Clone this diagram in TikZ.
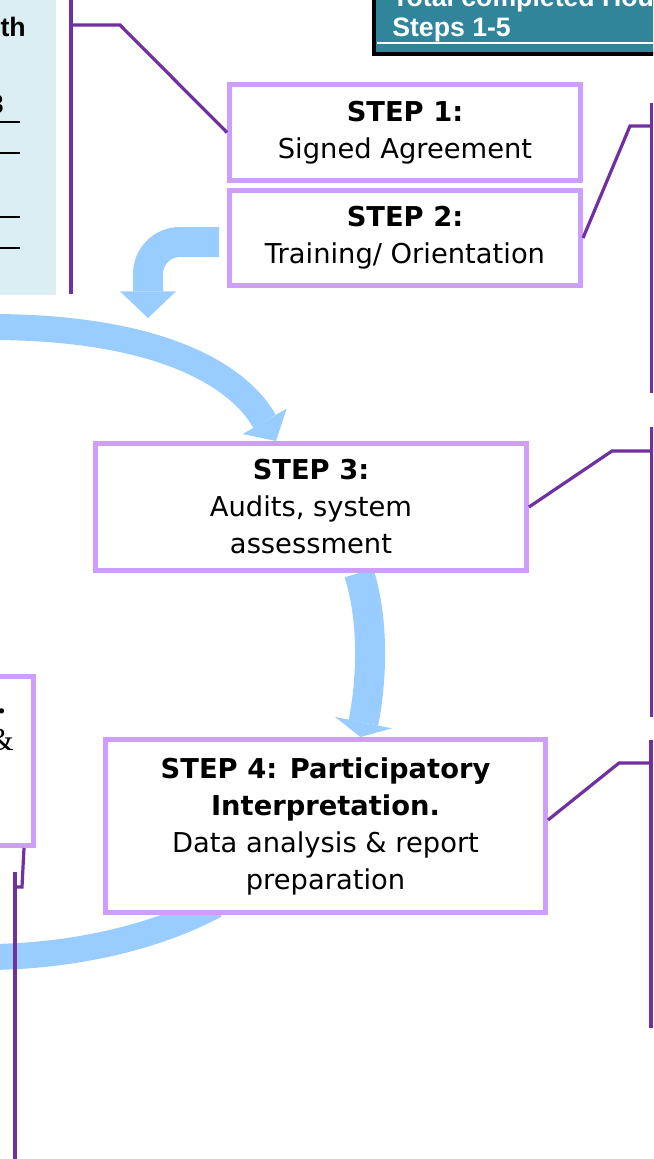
\documentclass[tikz,border=0pt]{standalone}
\usepackage{fontspec}
\setmainfont{DejaVu Sans}
\newfontfamily\headfont{Liberation Sans}
\newfontfamily\notefont{Liberation Serif}
\usepackage{tikz}
\usetikzlibrary{
    arrows.meta,
    calc,
    backgrounds
}

\definecolor{boxline}{RGB}{206,158,255}
\definecolor{linkpurple}{RGB}{112,48,160}
\definecolor{flowblue}{RGB}{153,204,255}
\definecolor{notefill}{RGB}{218,238,243}
\definecolor{tealhead}{RGB}{49,133,155}

\tikzset{
    stepbox/.style={draw=boxline, line width=3.75pt, fill=white, align=center,
        inner sep=0pt, font=\fontsize{20.5}{27.75}\selectfont},
    headtext/.style={anchor=base west, inner sep=0pt, text=white,
        font=\headfont\bfseries\fontsize{20}{24}\selectfont},
    notetext/.style={anchor=base east, inner sep=0pt},
    link/.style={draw=linkpurple, line width=2.4pt},
    flow/.style={draw=flowblue, line width=19.5pt}
}

\begin{document}
\begin{tikzpicture}[x=0.75pt, y=-0.75pt]
        \useasboundingbox (0,0) rectangle (653,1159);
        \clip (0,0) rectangle (653,1159);

        % Hours sheet, top left
        \fill[notefill] (0,-5) rectangle (56,295);
        \node[notetext, font=\headfont\bfseries\fontsize{20}{24}\selectfont] (hrs) at (26,37) {th};
        \node[notetext, font=\headfont\bfseries\fontsize{20}{24}\selectfont] (hrsnum) at (4,114) {3};
        \foreach \y in {122,153,217,248}
            \draw[line width=1.2pt] (0,\y) -- (20,\y);

        % Total box, top right
        \filldraw[fill=tealhead, draw=black, line width=3pt] (373.75,-10) rectangle (700,54);
        \node[headtext] (total) at (392,7) {Total completed Hou};
        \node[headtext] (steps) at (392,37) {Steps 1-5};
        \draw[white, line width=1.5pt] (377,43) -- (653,43);

        % Step boxes
        \node[stepbox, minimum width=263.25pt, minimum height=72pt] (step1) at (405,132.5)
            {\textbf{STEP 1:}\\Signed Agreement};
        \node[stepbox, minimum width=263.25pt, minimum height=71.25pt] (step2) at (405,238)
            {\textbf{STEP 2:}\\Training/ Orientation};
        \node[stepbox, minimum width=323.25pt, minimum height=95.25pt] (step3) at (311,507)
            {\textbf{STEP 3:}\\Audits, system\\assessment};
        \node[stepbox, minimum width=330pt, minimum height=129.75pt] (step4) at (325.5,826)
            {\textbf{STEP 4: Participatory}\\\textbf{Interpretation.}\\Data analysis \& report\\preparation};
        \node[stepbox, minimum width=249.75pt, minimum height=126.75pt] (step5) at (-133,761) {};
        \node[notetext, font=\notefont\bfseries\fontsize{24}{28}\selectfont] (dot) at (6,713) {.};
        \node[notetext, font=\notefont\fontsize{24}{28}\selectfont] (amp) at (14,750) {\&};

        % Callout lines
        \coordinate (k1) at (120,25);
        \coordinate (k1a) at (71,0);
        \coordinate (k1b) at (71,294);
        \draw[link] (k1a) -- (k1b);
        \draw[link] (step1.west) -- (k1) -- (71,25);

        \coordinate (k2) at (630,126);
        \coordinate (k2a) at (651.5,103);
        \coordinate (k2b) at (651.5,393);
        \draw[link] (k2a) -- (k2b);
        \draw[link] (step2.east) -- (k2) -- (k2 -| k2a);

        \coordinate (k3) at (612,451);
        \coordinate (k3a) at (652,427);
        \coordinate (k3b) at (652,717);
        \draw[link] (k3a) -- (k3b);
        \draw[link] (step3.east) -- (k3) -- (k3 -| k3a);

        \coordinate (k4) at (619,763);
        \coordinate (k4a) at (651,740);
        \coordinate (k4b) at (651,1028);
        \draw[link] (k4a) -- (k4b);
        \draw[link] ($(step4.east)+(0,-6)$) -- (k4) -- (k4 -| k4a);

        \coordinate (k5) at (22,887);
        \coordinate (k5a) at (15,872);
        \coordinate (k5b) at (15,1159);
        \draw[link] (k5a) -- (k5b);
        \draw[link] ($(step5.south east)+(-12,0)$) -- (k5) -- (k5 -| k5a);

        % Flow arrows behind the boxes
        \begin{scope}[on background layer]
            \clip (0,0) rectangle (653,1159);
            \draw[flow, line width=22.5pt, rounded corners=24pt,
                -{Triangle[length=20pt, width=42pt, line width=0pt]}]
                ($(step2.west)+(-8,4)$) -| (148,318);
            \draw[flow, -{Triangle[length=17pt, width=38pt, line width=0pt]}]
                (-10,327) .. controls (150,327) and (235,370) .. ($(step3.north)+(-35,0)$);
            \draw[flow, line width=22.5pt, -{Triangle[length=11pt, width=43.5pt, line width=0pt]}]
                ($(step3.south)+(48,0)$) .. controls (374,620) and (372,680) .. ($(step4.north)+(35,0)$);
            \draw[flow] ($(step4.south)+(-110,-10)$) .. controls (160,935) and (80,956) .. (-10,957);
        \end{scope}
    \end{tikzpicture}
\end{document}
